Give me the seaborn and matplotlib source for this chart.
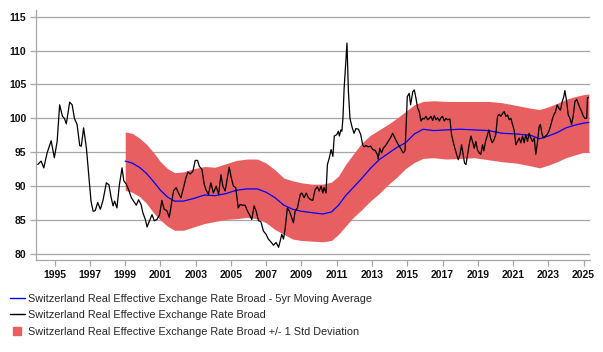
import numpy as np
import pandas as pd
import seaborn as sns
from matplotlib import pyplot as plt
from matplotlib.lines import Line2D

# REER broad (decimal year, index)
rate_year = [1994.04, 1994.23, 1994.38, 1994.57, 1994.8, 1994.98, 1995.14, 1995.28, 1995.44, 1995.55,
             1995.66, 1995.85, 1995.99, 1996.12, 1996.27, 1996.42, 1996.51, 1996.64, 1996.8, 1996.93,
             1997.06, 1997.18, 1997.3, 1997.44, 1997.59, 1997.74, 1997.93, 1998.08, 1998.19, 1998.31,
             1998.4, 1998.53, 1998.67, 1998.82, 1998.92, 1999.06, 1999.19, 1999.35, 1999.48, 1999.63,
             1999.76, 1999.9, 2000.0, 2000.14, 2000.24, 2000.38, 2000.52, 2000.65, 2000.8, 2000.95,
             2001.08, 2001.21, 2001.36, 2001.5, 2001.65, 2001.74, 2001.89, 2002.02, 2002.16, 2002.31,
             2002.44, 2002.56, 2002.69, 2002.84, 2002.97, 2003.1, 2003.21, 2003.35, 2003.48, 2003.59,
             2003.72, 2003.86, 2004.0, 2004.16, 2004.3, 2004.43, 2004.54, 2004.67, 2004.76, 2004.9,
             2005.01, 2005.14, 2005.27, 2005.41, 2005.52, 2005.66, 2005.8, 2005.94, 2006.05, 2006.18,
             2006.31, 2006.43, 2006.56, 2006.69, 2006.84, 2006.99, 2007.12, 2007.26, 2007.41, 2007.56,
             2007.7, 2007.79, 2007.88, 2007.98, 2008.07, 2008.2, 2008.32, 2008.45, 2008.54, 2008.64,
             2008.77, 2008.93, 2009.02, 2009.15, 2009.27, 2009.39, 2009.53, 2009.64, 2009.77, 2009.9,
             2010.0, 2010.11, 2010.21, 2010.28, 2010.39, 2010.47, 2010.58, 2010.68, 2010.78, 2010.86,
             2011.0, 2011.09, 2011.15, 2011.23, 2011.29, 2011.35, 2011.42, 2011.49, 2011.58, 2011.66,
             2011.75, 2011.87, 2011.98, 2012.09, 2012.23, 2012.36, 2012.47, 2012.55, 2012.66, 2012.78,
             2012.93, 2013.04, 2013.17, 2013.3, 2013.35, 2013.44, 2013.54, 2013.64, 2013.8, 2013.92,
             2014.06, 2014.17, 2014.3, 2014.43, 2014.55, 2014.68, 2014.77, 2014.87, 2014.93, 2015.0,
             2015.11, 2015.19, 2015.31, 2015.4, 2015.49, 2015.59, 2015.68, 2015.78, 2015.87, 2015.96,
             2016.06, 2016.15, 2016.25, 2016.34, 2016.44, 2016.53, 2016.63, 2016.72, 2016.82, 2016.91,
             2017.0, 2017.1, 2017.19, 2017.29, 2017.42, 2017.51, 2017.6, 2017.7, 2017.8, 2017.89,
             2017.99, 2018.08, 2018.17, 2018.25, 2018.33, 2018.42, 2018.51, 2018.61, 2018.7, 2018.8,
             2018.89, 2018.98, 2019.08, 2019.17, 2019.27, 2019.34, 2019.44, 2019.55, 2019.63, 2019.72,
             2019.82, 2019.91, 2020.02, 2020.12, 2020.21, 2020.31, 2020.4, 2020.5, 2020.59, 2020.69,
             2020.78, 2020.88, 2020.97, 2021.06, 2021.16, 2021.25, 2021.35, 2021.44, 2021.54, 2021.63,
             2021.72, 2021.82, 2021.91, 2022.01, 2022.1, 2022.2, 2022.29, 2022.39, 2022.48, 2022.55,
             2022.65, 2022.74, 2022.84, 2022.93, 2023.03, 2023.12, 2023.22, 2023.31, 2023.41, 2023.5,
             2023.6, 2023.69, 2023.79, 2023.88, 2023.94, 2024.04, 2024.13, 2024.23, 2024.32, 2024.42,
             2024.51, 2024.61, 2024.7, 2024.8, 2024.89, 2024.99, 2025.08, 2025.18, 2025.22, 2025.28]
rate = [93.2, 93.7, 92.7, 94.9, 96.7, 94.2, 96.6, 102.0, 100.3, 100.0,
        99.2, 102.4, 102.0, 100.0, 99.1, 96.0, 95.9, 98.6, 95.6, 91.7,
        87.8, 86.3, 86.4, 87.6, 86.6, 87.9, 90.5, 90.2, 88.5, 87.1,
        87.8, 86.8, 90.2, 92.7, 90.8, 90.3, 89.5, 88.3, 87.8, 87.2,
        88.0, 87.3, 86.1, 85.1, 84.0, 84.9, 85.8, 84.9, 85.1, 85.8,
        87.9, 86.6, 86.4, 85.4, 87.8, 89.3, 89.8, 89.0, 88.3, 89.8,
        91.2, 92.1, 91.8, 92.2, 93.8, 93.8, 92.9, 92.5, 90.3, 89.4,
        88.8, 90.5, 89.0, 90.0, 88.8, 91.7, 90.0, 89.3, 90.7, 92.8,
        91.3, 90.0, 89.8, 86.8, 87.3, 87.2, 87.2, 86.3, 85.8, 85.1,
        87.1, 86.3, 84.9, 84.8, 83.4, 82.9, 82.2, 81.8, 81.3, 81.7,
        81.0, 81.9, 82.9, 82.2, 83.7, 86.8, 86.3, 85.3, 84.6, 86.3,
        86.8, 88.8, 89.0, 88.3, 89.0, 88.3, 88.0, 87.9, 89.5, 89.9,
        89.3, 90.0, 89.0, 89.8, 89.0, 93.2, 94.2, 95.4, 94.4, 97.4,
        97.6, 98.1, 97.4, 98.3, 98.1, 100.0, 104.5, 107.4, 111.1, 104.0,
        100.0, 98.7, 97.8, 98.5, 98.4, 97.6, 96.1, 95.8, 96.0, 95.8,
        95.9, 95.4, 95.3, 94.7, 94.0, 95.6, 94.9, 95.6, 96.1, 96.6,
        97.2, 97.8, 97.1, 96.4, 95.9, 95.3, 94.9, 95.2, 98.6, 103.2,
        103.7, 102.0, 103.9, 104.2, 103.0, 101.5, 101.0, 99.6, 100.0, 99.9,
        100.3, 99.8, 100.0, 100.3, 99.7, 100.4, 99.8, 100.1, 99.6, 100.1,
        100.3, 99.6, 100.0, 99.8, 99.9, 97.6, 96.6, 95.6, 94.7, 93.9,
        94.7, 96.1, 94.7, 93.4, 93.2, 94.7, 96.1, 97.4, 96.6, 95.6,
        96.6, 95.4, 94.9, 94.7, 96.1, 95.2, 96.6, 97.6, 98.3, 97.1,
        96.4, 96.8, 97.6, 100.3, 100.6, 100.3, 100.7, 101.0, 100.3, 100.5,
        99.8, 100.0, 99.1, 98.3, 96.1, 96.6, 97.1, 96.4, 97.4, 96.4,
        97.6, 96.6, 97.8, 97.1, 96.6, 97.1, 94.7, 96.6, 98.8, 99.1,
        97.6, 97.1, 97.4, 97.6, 98.1, 98.8, 99.8, 100.5, 101.0, 102.0,
        101.5, 101.2, 102.5, 103.2, 104.1, 102.5, 100.5, 100.0, 99.1, 100.5,
        102.5, 102.8, 102.2, 101.5, 101.0, 100.3, 100.0, 100.0, 103.0, 103.1]
assert len(rate_year) == len(rate)

# 5yr moving average and +/- 1 std band
ma_year = [1999.0, 1999.4, 1999.8, 2000.2, 2000.6, 2001.0, 2001.4, 2001.8, 2002.3, 2002.9,
           2003.5, 2004.1, 2004.7, 2005.3, 2005.9, 2006.5, 2007.0, 2007.5, 2008.0, 2008.5,
           2009.0, 2009.6, 2010.2, 2010.7, 2011.1, 2011.5, 2011.9, 2012.4, 2012.9, 2013.4,
           2013.9, 2014.4, 2014.9, 2015.4, 2015.9, 2016.5, 2017.2, 2018.0, 2018.8, 2019.6,
           2020.4, 2021.2, 2022.0, 2022.5, 2023.0, 2023.5, 2024.0, 2024.5, 2025.0, 2025.3]
ma = [93.7, 93.4, 92.8, 91.9, 90.7, 89.4, 88.4, 87.8, 87.8, 88.2,
      88.7, 88.6, 88.9, 89.4, 89.6, 89.6, 89.1, 88.3, 87.2, 86.6,
      86.3, 86.1, 85.9, 86.2, 87.2, 88.6, 89.7, 91.1, 92.6, 93.9,
      94.8, 95.7, 96.4, 97.7, 98.4, 98.2, 98.3, 98.4, 98.3, 98.2,
      97.8, 97.7, 97.5, 97.0, 97.4, 97.9, 98.6, 99.0, 99.3, 99.4]
upper = [98.0, 97.8, 97.1, 96.2, 95.0, 93.6, 92.6, 92.0, 92.1, 92.6,
         92.9, 92.8, 93.3, 93.8, 94.0, 94.0, 93.4, 92.4, 91.2, 90.8,
         90.5, 90.3, 90.3, 90.6, 91.5, 93.2, 94.6, 96.3, 97.5, 98.3,
         99.1, 100.0, 101.0, 102.0, 102.5, 102.6, 102.5, 102.5, 102.5, 102.5,
         102.3, 101.9, 101.5, 101.3, 101.7, 102.2, 102.8, 103.2, 103.5, 103.6]
lower = [89.4, 89.1, 88.5, 87.5, 86.1, 85.0, 84.1, 83.5, 83.5, 84.0,
         84.5, 84.8, 85.1, 85.2, 85.4, 85.2, 84.6, 83.6, 82.9, 82.2,
         82.0, 81.9, 81.8, 82.0, 82.9, 84.1, 85.3, 86.5, 87.8, 88.9,
         90.2, 91.3, 92.6, 93.5, 94.1, 94.2, 94.0, 94.1, 94.2, 93.9,
         93.6, 93.4, 93.0, 92.7, 93.1, 93.6, 94.2, 94.6, 95.0, 95.0]

name = "Switzerland Real Effective Exchange Rate Broad"

sns.set_theme(style="white")
plt.rcParams['font.family'] = ['Liberation Sans', 'DejaVu Sans']

df_rate = pd.DataFrame({'year': rate_year, 'value': rate})
df_ma = pd.DataFrame({'year': ma_year, 'ma': ma, 'upper': upper, 'lower': lower})

fig = plt.figure(figsize=(6.03, 3.52), dpi=100)
ax = fig.add_axes([0.06, 0.261, 0.918, 0.711])

band_color = '#e85f61'
ax.fill_between(df_ma['year'], df_ma['lower'], df_ma['upper'], color=band_color, lw=0, zorder=2)
sns.lineplot(data=df_ma, x='year', y='ma', ax=ax, color='#0000ff', lw=0.9, zorder=3)
sns.lineplot(data=df_rate, x='year', y='value', ax=ax, color='black', lw=0.9, zorder=4)

ax.set_xlim(1993.95, 2025.35)
ax.set_ylim(79.1, 116)
ax.set_xticks(range(1995, 2026, 2))
ax.set_yticks(range(80, 116, 5))
ax.set_xlabel('')
ax.set_ylabel('')
ax.yaxis.grid(True, color='#a6a6a6', lw=0.9)
ax.set_axisbelow(True)
for side in ['top', 'right']:
    ax.spines[side].set_visible(False)
for side in ['left', 'bottom']:
    ax.spines[side].set_color('#a6a6a6')
    ax.spines[side].set_linewidth(0.9)
ax.tick_params(axis='both', which='major', length=4, width=0.9, color='#a6a6a6',
               labelsize=7.5, labelcolor='#111111', bottom=True, left=True, pad=3)
for lab in ax.get_xticklabels() + ax.get_yticklabels():
    lab.set_fontweight('bold')

handles = [Line2D([], [], color='#0000ff', lw=1),
           Line2D([], [], color='black', lw=1),
           Line2D([], [], color=band_color, ls='', marker='s', markersize=5.5)]
labels = [name + ' - 5yr Moving Average', name, name + ' +/- 1 Std Deviation']
fig.legend(handles, labels, loc='upper left', bbox_to_anchor=(0.01, 0.178), frameon=False,
           fontsize=7.85, handlelength=1.3, handleheight=0.7, handletextpad=0.36,
           labelspacing=0.6, borderaxespad=0)

fig.savefig('out.png', dpi=100)
